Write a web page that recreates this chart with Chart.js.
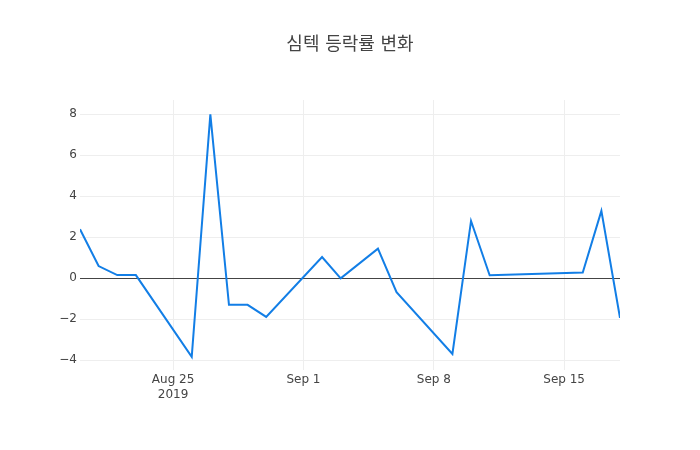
<!DOCTYPE html>
<html>
<head>
<meta charset="utf-8">
<script src="https://cdn.jsdelivr.net/npm/chart.js@4"></script>
<style>
html,body{margin:0;padding:0;background:#fff;}
#wrap{width:700px;height:450px;}
</style>
</head>
<body>
<div id="wrap"><canvas id="c" width="700" height="450"></canvas></div>
<script>
const titleText = '심텍 등락률 변화';
const dates = ['2019-08-20','2019-08-21','2019-08-22','2019-08-23','2019-08-26','2019-08-27','2019-08-28','2019-08-29','2019-08-30','2019-09-02','2019-09-03','2019-09-05','2019-09-06','2019-09-09','2019-09-10','2019-09-11','2019-09-16','2019-09-17','2019-09-18'];
const changes = [2.40, 0.60, 0.16, 0.16, -3.83, 8.00, -1.29, -1.29, -1.88, 1.04, 0.00, 1.45, -0.67, -3.69, 2.80, 0.15, 0.28, 3.29, -1.93];
const xTickDates = ['2019-08-25','2019-09-01','2019-09-08','2019-09-15'];
const xTickLabels = [['Aug 25','2019'],['Sep 1'],['Sep 8'],['Sep 15']];
const yTickValues = [-4,-2,0,2,4,6,8];
const xRange = ['2019-08-20','2019-09-18'];
const yRange = [-4.47, 8.70];

const DAY = 86400000;
const toDay = s => Date.parse(s + 'T00:00:00Z') / DAY;
const pts = dates.map((d,i) => ({x: toDay(d), y: changes[i]}));
const xTickDays = xTickDates.map(toDay);
const FONT = '"DejaVu Sans", "Noto Sans CJK KR", sans-serif';

const titlePlugin = {
  id: 'pageTitle',
  afterDraw(chart) {
    const ctx = chart.ctx;
    ctx.save();
    ctx.fillStyle = '#444';
    ctx.font = '18px ' + FONT;
    ctx.textAlign = 'center';
    ctx.textBaseline = 'middle';
    ctx.fillText(titleText, chart.width / 2, 45);
    ctx.restore();
  }
};

new Chart(document.getElementById('c'), {
  type: 'line',
  data: { datasets: [{
    data: pts,
    borderColor: '#127ee6',
    borderWidth: 2,
    pointRadius: 0,
    pointHoverRadius: 0,
    tension: 0,
    fill: false
  }]},
  plugins: [titlePlugin],
  options: {
    responsive: false,
    animation: false,
    devicePixelRatio: 1,
    layout: { padding: { top: 100, right: 80, bottom: 0, left: 0 } },
    plugins: {
      legend: { display: false },
      tooltip: { enabled: false },
      title: { display: false }
    },
    scales: {
      x: {
        type: 'linear',
        min: toDay(xRange[0]),
        max: toDay(xRange[1]),
        afterBuildTicks: s => { s.ticks = xTickDays.map(v => ({value: v})); },
        afterFit: s => { s.height = 80; },
        ticks: {
          autoSkip: false,
          maxRotation: 0,
          padding: 2,
          color: '#444',
          font: { family: FONT, size: 12, lineHeight: 1.25 },
          callback: (v) => { const i = xTickDays.indexOf(v); return i >= 0 ? xTickLabels[i] : ''; }
        },
        grid: { color: '#eee', lineWidth: 1, drawTicks: false },
        border: { display: false }
      },
      y: {
        type: 'linear',
        min: yRange[0],
        max: yRange[1],
        afterBuildTicks: s => { s.ticks = yTickValues.map(v => ({value: v})); },
        afterFit: s => { s.width = 80; },
        ticks: {
          padding: 3,
          color: '#444',
          font: { family: FONT, size: 12 },
          callback: v => v < 0 ? '\u2212' + Math.abs(v) : String(v)
        },
        grid: {
          color: c => (c.tick && c.tick.value === 0) ? '#444' : '#eee',
          lineWidth: 1,
          drawTicks: false
        },
        border: { display: false }
      }
    }
  }
});
</script>
</body>
</html>
